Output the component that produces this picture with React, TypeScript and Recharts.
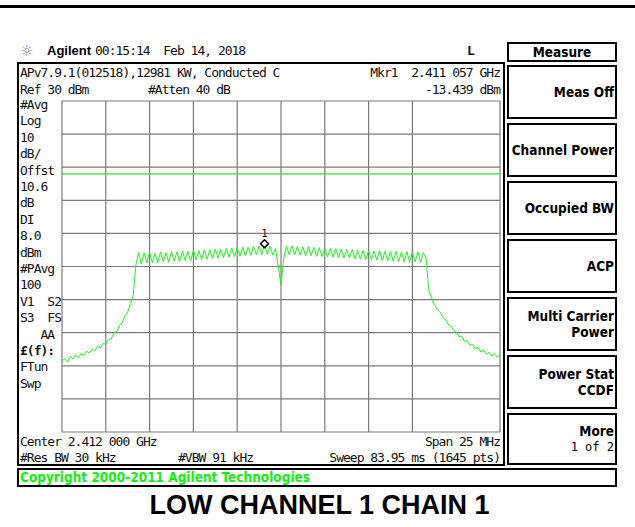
import React from 'react';
import { LineChart, Line, XAxis, YAxis, CartesianGrid, ReferenceLine, ReferenceDot } from 'recharts';

// sweep: 2399.5 .. 2424.5 MHz (center 2.412 GHz, span 25 MHz)
const sweepStartMHz = 2399.5;
const sweepStepMHz = 0.15625;

// trace levels, dBm
const traceDbm = [
  -48.6, -47.8, -48.9, -47.2, -47.9, -46.8, -47.5, -46.3, -46.9, -45.6,
  -46.2, -45.0, -45.4, -44.1, -44.6, -43.2, -43.5, -42.0, -41.8, -40.1,
  -39.6, -37.8, -37.0, -34.9, -33.8, -31.2, -28.8, -19.5, -15.8, -19.2,
  -15.9, -19.0, -15.7, -18.8, -16.0, -18.9, -15.6, -18.6, -15.8, -18.7,
  -15.5, -18.4, -15.6, -18.5, -15.3, -18.2, -15.4, -18.3, -15.1, -18.0,
  -15.2, -17.9, -14.9, -17.8, -15.0, -17.6, -14.7, -17.5, -14.8, -17.3,
  -14.5, -17.2, -14.4, -17.0, -14.3, -16.9, -14.1, -16.8, -14.2, -16.6,
  -13.9, -16.5, -13.8, -16.4, -13.4, -16.3, -13.9, -16.5, -14.6, -19.8,
  -25.6, -17.5, -13.9, -16.4, -13.8, -16.5, -14.0, -16.6, -14.1, -16.8,
  -14.0, -16.7, -14.2, -16.9, -14.3, -17.0, -14.4, -17.1, -14.5, -17.2,
  -14.6, -17.3, -14.7, -17.4, -14.8, -17.5, -14.9, -17.7, -15.0, -17.8,
  -15.1, -17.9, -15.2, -18.0, -15.3, -18.1, -15.2, -18.2, -15.4, -18.3,
  -15.5, -18.4, -15.4, -18.5, -15.6, -18.6, -15.5, -18.7, -15.7, -18.6,
  -15.6, -18.8, -15.8, -17.5, -27.2, -29.6, -31.4, -32.9, -33.6, -35.2,
  -35.8, -37.4, -37.9, -39.3, -39.6, -41.2, -41.0, -42.6, -42.4, -43.8,
  -43.5, -44.9, -44.4, -45.8, -45.2, -46.5, -45.9, -47.0, -46.3, -47.4,
  -46.8,
];

const freqTicks = [2399.5, 2402, 2404.5, 2407, 2409.5, 2412, 2414.5, 2417, 2419.5, 2422, 2424.5];
const levelTicks = [-70, -60, -50, -40, -30, -20, -10, 0, 10, 20, 30];
const displayLineDbm = 8;
const markerFreq = 2411.057;
const markerDbm = -13.439;

const leftLabels = ['#Avg', 'Log', '10', 'dB/', 'Offst', '10.6', 'dB', 'DI', '8.0', 'dBm',
  '#PAvg', '100', 'V1  S2', 'S3  FS', '   AA', '£(f):', 'FTun', 'Swp'];

const softKeys = [
  ['Meas Off'],
  ['Channel Power'],
  ['Occupied BW'],
  ['ACP'],
  ['Multi Carrier', 'Power'],
  ['Power Stat', 'CCDF'],
  ['More', '1 of 2'],
];

const data = traceDbm.map((dbm, i) => ({ freq: sweepStartMHz + i * sweepStepMHz, dbm }));

const GREEN = '#22ee22';
const mono: React.CSSProperties = {
  position: 'absolute',
  fontFamily: "'DejaVu Sans Mono', monospace",
  fontSize: 13,
  letterSpacing: -1,
  lineHeight: '14px',
  color: '#111',
  whiteSpace: 'pre',
};
const keyFont: React.CSSProperties = {
  fontFamily: "'DejaVu Sans Condensed', 'DejaVu Sans', sans-serif",
  fontStretch: 'condensed',
  fontWeight: 'bold',
  fontSize: 13.5,
  lineHeight: '16px',
  color: '#000',
};

const MarkerShape = (props: any) => {
  const { cx, cy } = props;
  if (cx == null || cy == null) return null;
  const d = 4;
  const my = cy - 1;
  return (
    <g>
      <path d={`M${cx},${my - d} L${cx + d},${my} L${cx},${my + d} L${cx - d},${my} Z`}
        fill="#fff" stroke="#000" strokeWidth={1.5} />
      <text x={cx} y={my - 7} textAnchor="middle" fontSize={10} fontFamily="'DejaVu Sans Mono', monospace">1</text>
    </g>
  );
};

export default function App() {
  return (
    <div style={{ position: 'absolute', left: 0, top: 0, width: 635, height: 527, background: '#fff', overflow: 'hidden' }}>
      <div style={{ position: 'absolute', left: 0, top: 5, width: 635, height: 3, background: '#000' }} />

      {/* header */}
      <div style={{ position: 'absolute', left: 20, top: 42, fontSize: 15, color: '#7070ff', fontFamily: "'DejaVu Sans'" }}>☼</div>
      <div style={{ position: 'absolute', left: 47, top: 43, fontFamily: "'Liberation Sans', Arial", fontWeight: 'bold', fontSize: 13 }}>Agilent</div>
      <div style={{ ...mono, left: 95, top: 44 }}>00:15:14  Feb 14, 2018</div>
      <div style={{ ...mono, left: 467, top: 44, fontWeight: 'bold' }}>L</div>

      {/* left frame */}
      <div style={{ position: 'absolute', left: 17, top: 62, width: 488, height: 404, border: '2px solid #000', boxSizing: 'border-box' }} />
      <div style={{ ...mono, left: 20, top: 66 }}>APv7.9.1(012518),12981 KW, Conducted C</div>
      <div style={{ ...mono, left: 20, top: 83 }}>Ref 30 dBm</div>
      <div style={{ ...mono, left: 148, top: 83 }}>#Atten 40 dB</div>
      <div style={{ ...mono, right: 135, top: 66 }}>Mkr1  2.411 057 GHz</div>
      <div style={{ ...mono, right: 135, top: 83 }}>-13.439 dBm</div>
      {leftLabels.map((t, i) => (
        <div key={i} style={{ ...mono, left: 20, top: 98 + i * 16.4, fontWeight: t.startsWith('£') ? 'bold' : 'normal' }}>{t}</div>
      ))}
      <div style={{ ...mono, left: 20, top: 435 }}>Center 2.412 000 GHz</div>
      <div style={{ ...mono, right: 135, top: 435 }}>Span 25 MHz</div>
      <div style={{ ...mono, left: 20, top: 451 }}>#Res BW 30 kHz</div>
      <div style={{ ...mono, left: 178, top: 451 }}>#VBW 91 kHz</div>
      <div style={{ ...mono, right: 135, top: 451 }}>Sweep 83.95 ms (1645 pts)</div>

      <div style={{ position: 'absolute', left: 60, top: 99 }}>
        <LineChart width={442} height={335} data={data} margin={{ top: 2, right: 2, bottom: 2, left: 2 }}>
          <XAxis dataKey="freq" type="number" domain={[2399.5, 2424.5]} ticks={freqTicks} hide />
          <YAxis type="number" domain={[-70, 30]} ticks={levelTicks} hide />
          <CartesianGrid stroke="#7a7a7a" strokeWidth={1.2} />
          <ReferenceLine y={displayLineDbm} stroke={GREEN} strokeWidth={1.2} />
          <Line type="linear" dataKey="dbm" stroke={GREEN} strokeWidth={1} dot={false} isAnimationActive={false} />
          <ReferenceDot x={markerFreq} y={markerDbm} r={4} shape={MarkerShape} />
        </LineChart>
      </div>

      {/* soft keys */}
      <div style={{ position: 'absolute', left: 507, top: 42, width: 110, height: 20, border: '2px solid #000', boxSizing: 'border-box', textAlign: 'center', ...keyFont, lineHeight: '16px' }}>Measure</div>
      {softKeys.map((lines, i) => (
        <div key={i} style={{
          position: 'absolute', left: 507, top: 65 + i * 58, width: 110, height: i === 6 ? 52 : 54,
          border: '2px solid #000', boxSizing: 'border-box', display: 'flex', flexDirection: 'column',
          justifyContent: 'center', alignItems: 'flex-end', paddingRight: 1,
        }}>
          {lines.map((l, j) => (
            <div key={j} style={{ ...keyFont, ...(i === 6 && j === 1 ? { fontWeight: 'normal', fontFamily: "'DejaVu Sans Mono'", fontSize: 12 } : {}) }}>{l}</div>
          ))}
        </div>
      ))}

      {/* copyright bar */}
      <div style={{ position: 'absolute', left: 17, top: 468, width: 600, height: 19, border: '2px solid #000', boxSizing: 'border-box' }} />
      <div style={{ position: 'absolute', left: 20, top: 469, ...keyFont, color: '#11ee11', fontSize: 13.5 }}>Copyright 2000-2011 Agilent Technologies</div>

      <div style={{ position: 'absolute', left: 0, width: 635, top: 490, textAlign: 'center', fontFamily: "'Liberation Sans', Arial", fontWeight: 'bold', fontSize: 27, lineHeight: '30px', paddingLeft: 2 }}>
        LOW CHANNEL 1 CHAIN 1
      </div>
    </div>
  );
}
